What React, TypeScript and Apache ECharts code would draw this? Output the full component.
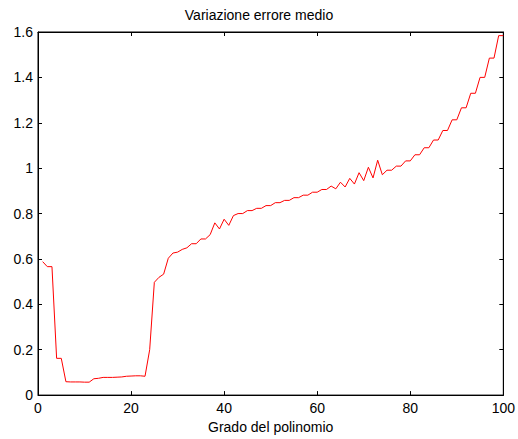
import React, { useEffect, useRef } from "react";
import * as echarts from "echarts";

const degrees: number[] = Array.from({ length: 100 }, (_, i) => i + 1);
const meanError: number[] = [
  0.588, 0.566, 0.566, 0.162, 0.162, 0.059, 0.058, 0.058, 0.058, 0.057,
  0.057, 0.072, 0.074, 0.078, 0.078, 0.078, 0.079, 0.080, 0.083, 0.084,
  0.085, 0.085, 0.083, 0.200, 0.497, 0.519, 0.533, 0.603, 0.626, 0.630,
  0.642, 0.649, 0.667, 0.667, 0.688, 0.688, 0.707, 0.759, 0.732, 0.775,
  0.748, 0.791, 0.800, 0.800, 0.813, 0.813, 0.823, 0.823, 0.835, 0.835,
  0.848, 0.848, 0.858, 0.858, 0.870, 0.870, 0.881, 0.881, 0.894, 0.894,
  0.906, 0.906, 0.921, 0.909, 0.938, 0.917, 0.955, 0.930, 0.980, 0.945,
  1.004, 0.957, 1.035, 0.971, 0.991, 0.991, 1.009, 1.009, 1.032, 1.032,
  1.059, 1.059, 1.090, 1.090, 1.124, 1.124, 1.166, 1.166, 1.213, 1.213,
  1.266, 1.266, 1.330, 1.330, 1.400, 1.400, 1.485, 1.485, 1.584, 1.584,
];

const titleText = "Variazione errore medio";
const xLabel = "Grado del polinomio";

const FONT = "'Liberation Sans', Arial, Helvetica, sans-serif";

const mkLine = () => ({ show: true, onZero: false, lineStyle: { color: "#000", width: 1, opacity: 1 } });
const mkTick = () => ({ show: true, inside: true, length: 4, lineStyle: { color: "#000", width: 1, opacity: 1 } });

export default function App() {
  const ref = useRef<HTMLDivElement>(null);
  useEffect(() => {
    if (!ref.current) return;
    const chart = echarts.init(ref.current, null, { renderer: "svg" });
    const label = { show: true, color: "#000", fontSize: 14, fontFamily: FONT, margin: 6 };
    chart.setOption({
      animation: false,
      backgroundColor: "#fff",
      title: {
        text: titleText,
        left: "center",
        top: 3,
        textStyle: { fontSize: 14, fontWeight: "normal", color: "#000", fontFamily: FONT },
      },
      grid: {
        left: 38,
        right: 13,
        top: 32,
        bottom: 39,
        containLabel: false,
        show: true,
        borderColor: "#000",
        borderWidth: 1,
        backgroundColor: "transparent",
      },
      xAxis: [
        {
          type: "value",
          min: 0,
          max: 100,
          interval: 20,
          position: "bottom",
          axisLine: mkLine(),
          axisTick: mkTick(),
          splitLine: { show: false },
          axisLabel: { ...label },
          name: xLabel,
          nameLocation: "middle",
          nameGap: 21,
          nameTextStyle: { color: "#000", fontSize: 14, fontFamily: FONT },
        },
        {
          type: "value",
          min: 0,
          max: 100,
          interval: 20,
          position: "top",
          axisLine: mkLine(),
          axisTick: mkTick(),
          splitLine: { show: false },
          axisLabel: { show: false },
        },
      ],
      yAxis: [
        {
          type: "value",
          min: 0,
          max: 1.6,
          interval: 0.2,
          position: "left",
          axisLine: mkLine(),
          axisTick: mkTick(),
          splitLine: { show: false },
          axisLabel: {
            ...label,
            margin: 5,
            formatter: (v: number) => String(Math.round(v * 10) / 10),
          },
        },
        {
          type: "value",
          min: 0,
          max: 1.6,
          interval: 0.2,
          position: "right",
          axisLine: mkLine(),
          axisTick: mkTick(),
          splitLine: { show: false },
          axisLabel: { show: false },
        },
      ],
      series: [
        {
          type: "line",
          data: degrees.map((d, i) => [d, meanError[i]]),
          showSymbol: false,
          symbol: "none",
          lineStyle: { color: "#ff0000", width: 1 },
          itemStyle: { color: "#ff0000" },
        },
      ],
    });
    return () => chart.dispose();
  }, []);
  return (
    <div
      ref={ref}
      style={{ position: "fixed", left: 0, top: 0, width: 518, height: 439, background: "#fff" }}
    />
  );
}
